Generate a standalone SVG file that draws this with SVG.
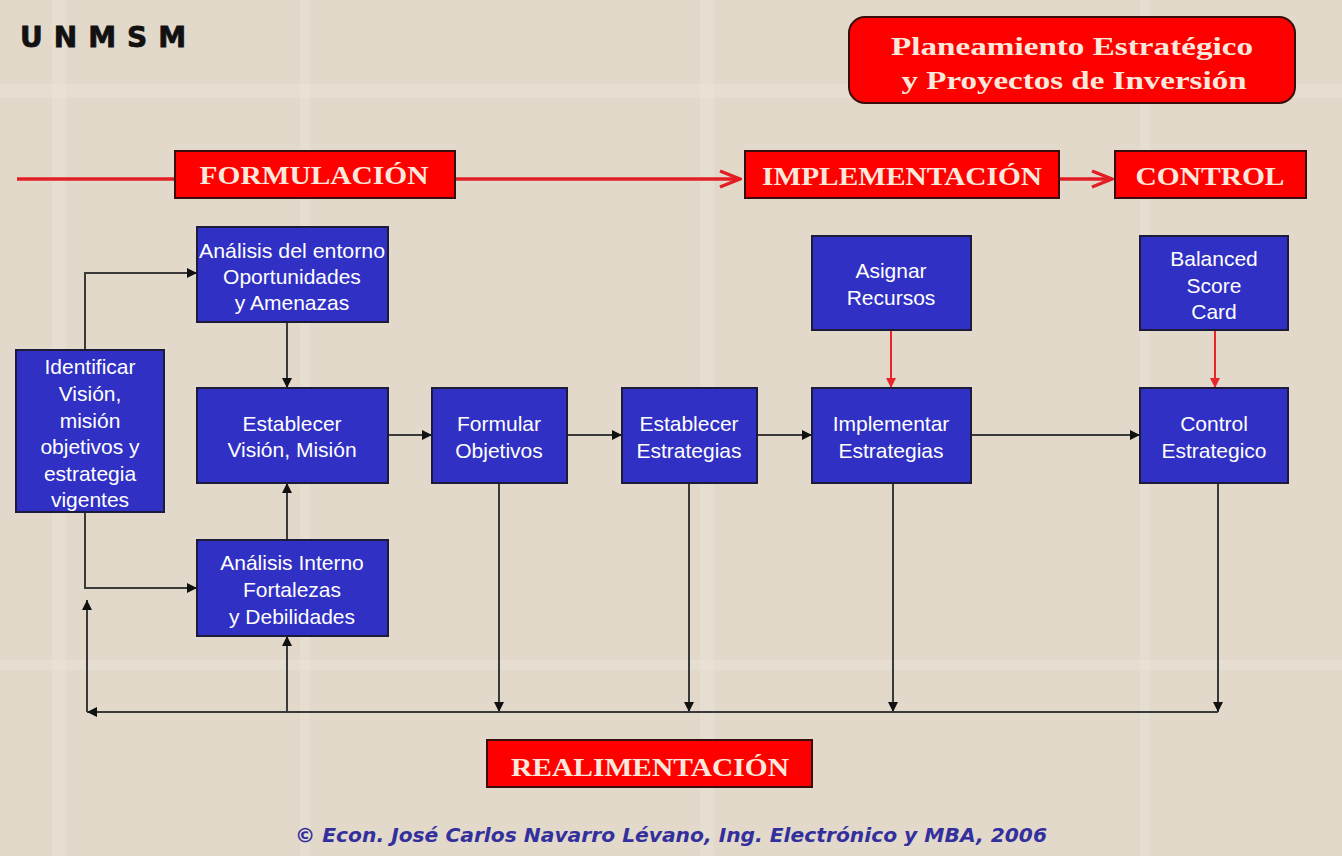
<svg xmlns="http://www.w3.org/2000/svg" width="1342" height="856" viewBox="0 0 1342 856">
<defs>
<style>
.bg{fill:#e2d9ca}
.band{fill:#efe8dc;opacity:0.35}
.box{fill:#3030c4;stroke:#1c1c3a;stroke-width:2}
.bt{font-family:"Liberation Sans",Arial,sans-serif;font-size:21px;fill:#ffffff;text-anchor:middle}
.rbox{fill:#ff0000;stroke:#3a0c0c;stroke-width:2}
.rt{font-family:"Liberation Serif","Times New Roman",serif;font-weight:bold;font-size:26px;fill:#fbe8dc;text-anchor:middle}
.ln{fill:none;stroke:#3a3a3a;stroke-width:2}
.lnr{fill:none;stroke:#e8262a;stroke-width:2}
.big{fill:none;stroke:#e21e24;stroke-width:3.5}
</style>
<marker id="ah" viewBox="0 0 10 10" refX="10" refY="5" markerWidth="10" markerHeight="10" markerUnits="userSpaceOnUse" orient="auto">
<path d="M0,0 L10,5 L0,10 z" fill="#111"/>
</marker>
<marker id="ahr" viewBox="0 0 10 10" refX="10" refY="5" markerWidth="10" markerHeight="10" markerUnits="userSpaceOnUse" orient="auto">
<path d="M0,0 L10,5 L0,10 z" fill="#e8262a"/>
</marker>
<marker id="chev" viewBox="0 0 24 20" refX="22" refY="10" markerWidth="24" markerHeight="20" markerUnits="userSpaceOnUse" orient="auto">
<path d="M2,2 L22,10 L2,18" fill="none" stroke="#e21e24" stroke-width="3.5"/>
</marker>
</defs>
<rect class="bg" x="0" y="0" width="1342" height="856"/>
<g id="background-plaid">
<rect class="band" x="52" y="0" width="14" height="856"/>
<rect class="band" x="300" y="0" width="10" height="856"/>
<rect class="band" x="700" y="0" width="14" height="856"/>
<rect class="band" x="1140" y="0" width="10" height="856"/>
<rect class="band" x="0" y="84" width="1342" height="14"/>
<rect class="band" x="0" y="660" width="1342" height="10"/>
</g>

<text x="20" y="47" font-family="'DejaVu Sans',Verdana,sans-serif" font-weight="bold" font-size="28" letter-spacing="11" fill="#111" stroke="#111" stroke-width="0.8">UNMSM</text>

<g id="title">
<rect x="849" y="17" width="446" height="86" rx="16" ry="16" fill="#ff0000" stroke="#3a0c0c" stroke-width="2"/>
<text class="rt" x="1072" y="55" font-size="25" textLength="362" lengthAdjust="spacingAndGlyphs">Planeamiento Estratégico</text>
<text class="rt" x="1074" y="89" font-size="25" textLength="345" lengthAdjust="spacingAndGlyphs">y Proyectos de Inversión</text>
</g>

<g id="phase-arrows">
<path class="big" d="M17,179 H175"/>
<path class="big" d="M455,179 H740" marker-end="url(#chev)"/>
<path class="big" d="M1059,179 H1112" marker-end="url(#chev)"/>
</g>

<g id="formulacion">
<rect class="rbox" x="175" y="151" width="280" height="47"/>
<text class="rt" x="314" y="184" textLength="229" lengthAdjust="spacingAndGlyphs">FORMULACIÓN</text>
</g>
<g id="implementacion">
<rect class="rbox" x="745" y="151" width="314" height="47"/>
<text class="rt" x="902" y="185" textLength="280" lengthAdjust="spacingAndGlyphs">IMPLEMENTACIÓN</text>
</g>
<g id="control">
<rect class="rbox" x="1115" y="151" width="191" height="47"/>
<text class="rt" x="1210" y="185" textLength="149" lengthAdjust="spacingAndGlyphs">CONTROL</text>
</g>
<g id="realimentacion">
<rect class="rbox" x="487" y="740" width="325" height="47"/>
<text class="rt" x="650" y="776" textLength="278" lengthAdjust="spacingAndGlyphs">REALIMENTACIÓN</text>
</g>

<g id="connectors">
<path class="ln" d="M85,350 V273 H197" marker-end="url(#ah)"/>
<path class="ln" d="M85,512 V588 H197" marker-end="url(#ah)"/>
<path class="ln" d="M287,322 V388" marker-end="url(#ah)"/>
<path class="ln" d="M287,540 V483" marker-end="url(#ah)"/>
<path class="ln" d="M388,435 H432" marker-end="url(#ah)"/>
<path class="ln" d="M567,435 H622" marker-end="url(#ah)"/>
<path class="ln" d="M757,435 H812" marker-end="url(#ah)"/>
<path class="ln" d="M971,435 H1140" marker-end="url(#ah)"/>
<path class="lnr" d="M891,330 V388" marker-end="url(#ahr)"/>
<path class="lnr" d="M1215,330 V388" marker-end="url(#ahr)"/>
<path class="ln" d="M499,483 V712" marker-end="url(#ah)"/>
<path class="ln" d="M689,483 V712" marker-end="url(#ah)"/>
<path class="ln" d="M893,483 V712" marker-end="url(#ah)"/>
<path class="ln" d="M1218,483 V712" marker-end="url(#ah)"/>
<path class="ln" d="M1218,712 H87" marker-end="url(#ah)"/>
<path class="ln" d="M287,712 V636" marker-end="url(#ah)"/>
<path class="ln" d="M87,712 V600" marker-end="url(#ah)"/>
</g>

<g id="analisis-entorno">
<rect class="box" x="197" y="227" width="191" height="95"/>
<text class="bt"><tspan x="292" y="258" textLength="186" lengthAdjust="spacingAndGlyphs">Análisis del entorno</tspan><tspan x="292" y="284">Oportunidades</tspan><tspan x="292" y="310">y Amenazas</tspan></text>
</g>
<g id="identificar">
<rect class="box" x="16" y="350" width="148" height="162"/>
<text class="bt"><tspan x="90" y="374">Identificar</tspan><tspan x="90" y="401">Visión,</tspan><tspan x="90" y="428">misión</tspan><tspan x="90" y="454">objetivos y</tspan><tspan x="90" y="481">estrategia</tspan><tspan x="90" y="507">vigentes</tspan></text>
</g>
<g id="establecer-vision">
<rect class="box" x="197" y="388" width="191" height="95"/>
<text class="bt"><tspan x="292" y="431">Establecer</tspan><tspan x="292" y="457">Visión, Misión</tspan></text>
</g>
<g id="analisis-interno">
<rect class="box" x="197" y="540" width="191" height="96"/>
<text class="bt"><tspan x="292" y="570">Análisis Interno</tspan><tspan x="292" y="597">Fortalezas</tspan><tspan x="292" y="624">y Debilidades</tspan></text>
</g>
<g id="formular-objetivos">
<rect class="box" x="432" y="388" width="135" height="95"/>
<text class="bt"><tspan x="499" y="431">Formular</tspan><tspan x="499" y="458">Objetivos</tspan></text>
</g>
<g id="establecer-estrategias">
<rect class="box" x="622" y="388" width="135" height="95"/>
<text class="bt"><tspan x="689" y="431">Establecer</tspan><tspan x="689" y="458">Estrategias</tspan></text>
</g>
<g id="asignar-recursos">
<rect class="box" x="812" y="236" width="159" height="94"/>
<text class="bt"><tspan x="891" y="278">Asignar</tspan><tspan x="891" y="305">Recursos</tspan></text>
</g>
<g id="implementar-estrategias">
<rect class="box" x="812" y="388" width="159" height="95"/>
<text class="bt"><tspan x="891" y="431">Implementar</tspan><tspan x="891" y="458">Estrategias</tspan></text>
</g>
<g id="balanced-score-card">
<rect class="box" x="1140" y="236" width="148" height="94"/>
<text class="bt"><tspan x="1214" y="266">Balanced</tspan><tspan x="1214" y="293">Score</tspan><tspan x="1214" y="319">Card</tspan></text>
</g>
<g id="control-estrategico">
<rect class="box" x="1140" y="388" width="148" height="95"/>
<text class="bt"><tspan x="1214" y="431">Control</tspan><tspan x="1214" y="458">Estrategico</tspan></text>
</g>

<text x="671" y="842" font-family="'DejaVu Sans',Tahoma,sans-serif" font-weight="bold" font-style="italic" font-size="20" fill="#33309e" text-anchor="middle" textLength="752" lengthAdjust="spacingAndGlyphs">©  Econ. José Carlos Navarro Lévano, Ing. Electrónico y MBA, 2006</text>
</svg>
